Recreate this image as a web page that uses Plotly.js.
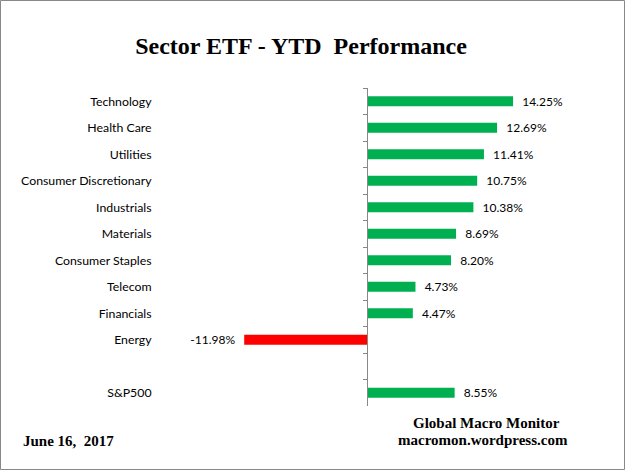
<!DOCTYPE html>
<html>
<head>
<meta charset="utf-8">
<script src="https://cdn.plot.ly/plotly-3.0.1.min.js"></script>
<style>
  body { margin: 0; background: #fff; }
  #chart { width: 626px; height: 471px; }
</style>
</head>
<body>
<div id="chart"></div>
<script>
// sectors, top to bottom; the blank one is the gap before S&P500
var sectors = ['Technology', 'Health Care', 'Utilities', 'Consumer Discretionary',
  'Industrials', 'Materials', 'Consumer Staples', 'Telecom', 'Financials',
  'Energy', ' ', 'S&P500'];
var ytd = [14.25, 12.69, 11.41, 10.75, 10.38, 8.69, 8.20, 4.73, 4.47, -11.98, null, 8.55];

var GREEN = '#00B050';
var RED = '#FF0000';

// plot box in pixels
var W = 626, H = 471;
var L = 170, R = 46, T = 88, B = 65;
var pw = W - L - R, ph = H - T - B;
var zeroPx = 367, pxPerUnit = 10.25;

function px2x(px) { return (px - L) / pw; }
function py2y(py) { return (H - B - py) / ph; }

var barColors = ytd.map(function (v) { return v < 0 ? RED : GREEN; });
var barText = ytd.map(function (v) {
  if (v === null) return '';
  return v < 0 ? v.toFixed(2) + '%\u00a0\u00a0' : '\u00a0\u00a0' + v.toFixed(2) + '%';
});

var trace = {
  type: 'bar',
  orientation: 'h',
  x: ytd,
  y: sectors,
  marker: { color: barColors },
  text: barText,
  textposition: 'outside',
  constraintext: 'none',
  cliponaxis: false,
  textfont: { family: 'Lato, sans-serif', size: 12, color: '#000' },
  hoverinfo: 'none'
};

var serif = '"Liberation Serif", "DejaVu Serif", serif';

var layout = {
  width: W,
  height: H,
  margin: { l: L, r: R, t: T, b: B, pad: 0 },
  paper_bgcolor: '#fff',
  plot_bgcolor: '#fff',
  showlegend: false,
  bargap: 0.62,
  title: {
    text: '<b>Sector ETF - YTD  Performance</b>',
    font: { family: serif, size: 24, color: '#000' },
    xref: 'container', yref: 'container',
    x: 301 / W, y: 1 - 46 / H, xanchor: 'center', yanchor: 'middle'
  },
  xaxis: {
    range: [(L - zeroPx) / pxPerUnit, (L + pw - zeroPx) / pxPerUnit],
    showgrid: false, zeroline: false, showline: false,
    showticklabels: false, ticks: '', fixedrange: true
  },
  yaxis: {
    type: 'category',
    categoryorder: 'array',
    categoryarray: sectors,
    range: [sectors.length - 0.5, -0.5],
    anchor: 'free',
    position: (zeroPx - L) / pw,
    showline: true, linecolor: '#888', linewidth: 1,
    ticks: 'outside', tickson: 'boundaries', ticklen: 4, tickcolor: '#888',
    ticklabelstandoff: 213,
    tickfont: { family: 'Lato, sans-serif', size: 12.3, color: '#000' },
    showgrid: false, zeroline: false, automargin: false, fixedrange: true
  },
  annotations: [
    {
      text: '<b>June 16,  2017</b>', xref: 'paper', yref: 'paper',
      x: px2x(21), y: py2y(441), xanchor: 'left', yanchor: 'middle', showarrow: false,
      font: { family: serif, size: 15, color: '#000' }
    },
    {
      text: '<b>Global Macro Monitor</b>', xref: 'paper', yref: 'paper',
      x: px2x(486), y: py2y(423), xanchor: 'center', yanchor: 'middle', showarrow: false,
      font: { family: serif, size: 15, color: '#000' }
    },
    {
      text: '<b>macromon.wordpress.com</b>', xref: 'paper', yref: 'paper',
      x: px2x(483), y: py2y(440), xanchor: 'center', yanchor: 'middle', showarrow: false,
      font: { family: serif, size: 15, color: '#000' }
    }
  ],
  shapes: [
    {
      type: 'rect', xref: 'paper', yref: 'paper',
      x0: px2x(0.5), x1: px2x(624.5), y0: py2y(469.5), y1: py2y(0.5),
      line: { color: '#888', width: 1 }, fillcolor: 'rgba(0,0,0,0)', layer: 'above'
    }
  ]
};

Plotly.newPlot('chart', [trace], layout, { displayModeBar: false, staticPlot: true });
</script>
</body>
</html>
